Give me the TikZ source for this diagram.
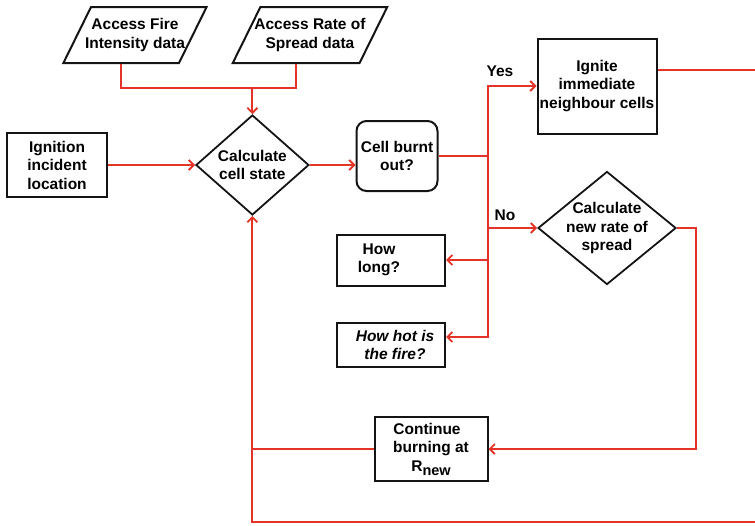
\documentclass[tikz,border=0pt]{standalone}
\usepackage{fontspec}
\setmainfont{Liberation Sans}
\usetikzlibrary{shapes.geometric, arrows.meta, positioning, calc}
\definecolor{flowred}{RGB}{228, 52, 40}
\definecolor{boxline}{RGB}{20, 20, 20}
\tikzset{
  font=\fontsize{15.5}{18.5}\selectfont\bfseries,
  baseblock/.style={
    rectangle, draw=boxline, line width=2pt,
    align=center, inner sep=0pt
  },
  stateblock/.style={baseblock, rounded corners=10pt},
  decisionblock/.style={
    diamond, draw=boxline, line width=1.8pt,
    align=center, inner sep=-2pt
  },
  datablock/.style={
    trapezium, trapezium left angle=50, trapezium right angle=130,
    trapezium stretches body=true, draw=boxline, line width=2pt,
    minimum height=56pt, align=center, inner xsep=-6pt, inner ysep=0pt
  },
  redline/.style={draw=flowred, line width=1.9pt},
  flowline/.style={redline, -{Straight Barb[length=5pt, width=10pt]}},
  branchlabel/.style={inner sep=0pt}
}

\begin{document}
\begin{tikzpicture}[x=1pt, y=-1pt]
  \useasboundingbox (0,0) rectangle (755,525);

  % Inputs
  \node[datablock] (intensity) at (135,35) {Access Fire\\Intensity data};
  \node[datablock] (spread) at (310,35) {Access Rate of\\Spread data};

  \node[baseblock, minimum width=100pt, minimum height=64pt] (ignition) at (57,165) {Ignition\\incident\\location};

  % Main decision
  \node[decisionblock, aspect=1.13, minimum width=113pt, minimum height=100pt, right=87pt of ignition] (cellstate) {Calculate\\cell state};

  \node[stateblock, minimum width=81pt, minimum height=70pt] (burnt) at (397,156) {Cell burnt\\out?};

  % Branches
  \node[baseblock, minimum width=119pt, minimum height=95pt] (ignite) at (597,86) {Ignite\\immediate\\neighbour cells};
  \node[decisionblock, aspect=1.22, minimum width=138pt, minimum height=113pt] (newrate) at (607,228) {Calculate\\new rate of\\spread};
  \node[baseblock, minimum width=108pt, minimum height=51pt] (howlong) at (391,260) {How\hspace*{24pt}\\long?\hspace*{24pt}};
  \node[baseblock, minimum width=108pt, minimum height=44pt] (howhot) at (391,345) {\itshape\hspace*{8pt}How hot is\\\itshape\hspace*{8pt}the fire?};
  \node[baseblock, minimum width=113pt, minimum height=64pt] (continue) at (431,449) {Continue\hspace*{8pt}\\burning at\hspace*{8pt}\\R\raisebox{-4pt}{\fontsize{14.5}{14.5}\selectfont new}};

  \node[branchlabel] (yes) at (500,71) {Yes};
  \node[branchlabel] (no) at (505,215) {No};

  % Helper points
  \coordinate (ibot) at ($(intensity.bottom left corner)!0.5!(intensity.bottom right corner)$);
  \coordinate (sbot) at ($(spread.bottom left corner)!0.5!(spread.bottom right corner)$);
  \coordinate (merge) at ($(cellstate.north)+(0,-26)$);
  \coordinate (split) at (488,156);
  \coordinate (rback) at (696,449);
  \coordinate (offpage) at (763,522);

  \draw[redline] (ibot) |- (merge);
  \draw[redline] (sbot) |- (merge);
  \draw[flowline] (merge) -- (cellstate.north);
  \draw[flowline] (ignition) -- (cellstate);
  \draw[flowline] (cellstate.east) -- (cellstate.east -| burnt.west);

  \draw[redline] (burnt.east) -- (split);
  \draw[flowline] (split) |- (ignite.west);
  \draw[flowline] (split) |- (newrate.west);
  \draw[flowline] (split) |- (howlong.east);
  \draw[flowline] (split) |- ([yshift=8pt]howhot.east);

  \draw[flowline] (newrate.east) -| (rback) -- (continue.east);
  \draw[redline] (continue.west) -- (continue.west -| cellstate.south);
  \draw[flowline] ([yshift=16pt]ignite.east) -| (offpage) -| (cellstate.south);

\end{tikzpicture}
\end{document}
